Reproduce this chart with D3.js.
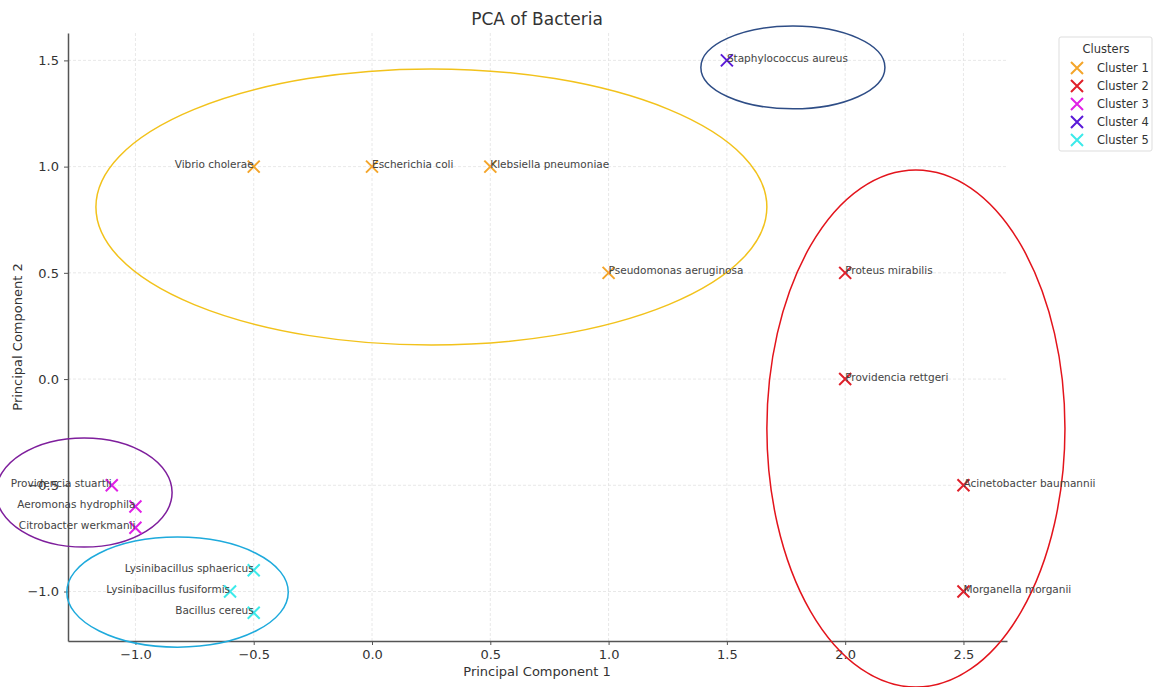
<!DOCTYPE html>
<html><head><meta charset="utf-8">
<script src="https://cdn.jsdelivr.net/npm/d3@7"></script>
<style>body{margin:0;background:#fff;} text{font-family:"DejaVu Sans",sans-serif;}</style>
</head><body><svg id="c" width="1157" height="687"></svg>
<script>
const names = ["Vibrio cholerae","Escherichia coli","Klebsiella pneumoniae","Pseudomonas aeruginosa",
  "Proteus mirabilis","Providencia rettgeri","Acinetobacter baumannii","Morganella morganii",
  "Providencia stuartii","Aeromonas hydrophila","Citrobacter werkmanii",
  "Staphylococcus aureus",
  "Lysinibacillus sphaericus","Lysinibacillus fusiformis","Bacillus cereus"];
const pc1 = [-0.5,0,0.5,1.0, 2.0,2.0,2.5,2.5, -1.1,-1.0,-1.0, 1.5, -0.5,-0.6,-0.5];
const pc2 = [1.0,1.0,1.0,0.5, 0.5,0.0,-0.5,-1.0, -0.5,-0.6,-0.7, 1.5, -0.9,-1.0,-1.1];
const cluster = [1,1,1,1, 2,2,2,2, 3,3,3, 4, 5,5,5];
const clusterNames = ["Cluster 1","Cluster 2","Cluster 3","Cluster 4","Cluster 5"];
const markerColors = ["#f4a52a","#e0202a","#e020e6","#5a1ad8","#3ceaea"];
const ellipseColors = ["#f2c21b","#e3141c","#7e1e9c","#2e4d86","#1eaadc"];
// ellipse center x, center y, radius x, radius y (data units) per cluster
const ellCx = [0.251, 2.299, -1.217, 1.779, -0.822];
const ellCy = [0.81, -0.233, -0.534, 1.467, -1.003];
const ellRx = [1.418, 0.63, 0.372, 0.389, 0.468];
const ellRy = [0.65, 1.217, 0.257, 0.195, 0.259];
const xTicks = [-1.0,-0.5,0.0,0.5,1.0,1.5,2.0,2.5];
const yTicks = [-1.0,-0.5,0.0,0.5,1.0,1.5];

const svg = d3.select("#c");
const L=68,R=1007,T=33,B=641;
const x = d3.scaleLinear().domain([-1.285,2.684]).range([L,R]);
const y = d3.scaleLinear().domain([-1.233,1.629]).range([B,T]);

// grid
const g = svg.append("g");
g.selectAll(".gx").data(xTicks).join("line").attr("x1",d=>x(d)).attr("x2",d=>x(d)).attr("y1",T).attr("y2",B)
 .attr("stroke","#e2e2e2").attr("stroke-dasharray","3,2").attr("stroke-width",0.8);
g.selectAll(".gy").data(yTicks).join("line").attr("y1",d=>y(d)).attr("y2",d=>y(d)).attr("x1",L).attr("x2",R)
 .attr("stroke","#e2e2e2").attr("stroke-dasharray","3,2").attr("stroke-width",0.8);

// axes
const fmt = d=> d3.format(".1f")(d).replace("-","\u2212");
const xa = svg.append("g").attr("transform",`translate(0,${B})`).call(d3.axisBottom(x).tickValues(xTicks).tickFormat(fmt).tickSize(4).tickSizeOuter(0).tickPadding(5));
const ya = svg.append("g").attr("transform",`translate(${L},0)`).call(d3.axisLeft(y).tickValues(yTicks).tickFormat(fmt).tickSize(4).tickSizeOuter(0).tickPadding(5));
[xa,ya].forEach(a=>{
  a.select(".domain").attr("stroke","#555").attr("stroke-width",1.5);
  a.selectAll(".tick line").attr("stroke","#555");
  a.selectAll(".tick text").attr("font-size",13).attr("fill","#333").attr("font-family","DejaVu Sans");
});

// ellipses
svg.append("g").selectAll("ellipse").data(d3.range(5)).join("ellipse")
  .attr("cx",i=>x(ellCx[i])).attr("cy",i=>y(ellCy[i]))
  .attr("rx",i=>x(ellRx[i])-x(0)).attr("ry",i=>y(0)-y(ellRy[i]))
  .attr("fill","none").attr("stroke",i=>ellipseColors[i]).attr("stroke-width",1.5);

// points
const s=6;
const pts = svg.append("g").selectAll("g").data(d3.range(names.length)).join("g")
  .attr("transform",i=>`translate(${x(pc1[i])},${y(pc2[i])})`);
pts.append("path").attr("d",`M${-s},${-s}L${s},${s}M${-s},${s}L${s},${-s}`)
  .attr("stroke",i=>markerColors[cluster[i]-1]).attr("stroke-width",2).attr("fill","none");
pts.append("text").text(i=>names[i]).attr("font-size",10.5).attr("fill","#444")
  .attr("text-anchor",i=>pc1[i]<0?"end":"start").attr("x",0).attr("y",1.5);

// title and labels
svg.append("text").attr("x",537).attr("y",25).attr("text-anchor","middle").attr("font-size",17).attr("fill","#333").text("PCA of Bacteria");
svg.append("text").attr("x",537).attr("y",676).attr("text-anchor","middle").attr("font-size",13).attr("fill","#333").text("Principal Component 1");
svg.append("text").attr("transform","translate(22,337) rotate(-90)").attr("text-anchor","middle").attr("font-size",13).attr("fill","#333").text("Principal Component 2");

// legend
const lg = svg.append("g").attr("transform","translate(1059,37)");
lg.append("rect").attr("width",93).attr("height",114).attr("fill","#fff").attr("stroke","#ddd").attr("rx",2);
lg.append("text").attr("x",47).attr("y",16).attr("text-anchor","middle").attr("font-size",11.5).attr("fill","#333").text("Clusters");
const items = lg.selectAll(".it").data(clusterNames).join("g").attr("transform",(d,i)=>`translate(0,${31+i*18})`);
items.append("path").attr("d","M12,-6L24,6M12,6L24,-6").attr("stroke",(d,i)=>markerColors[i]).attr("stroke-width",2);
items.append("text").attr("x",38).attr("y",4).attr("font-size",11.5).attr("fill","#333").text(d=>d);
</script></body></html>
